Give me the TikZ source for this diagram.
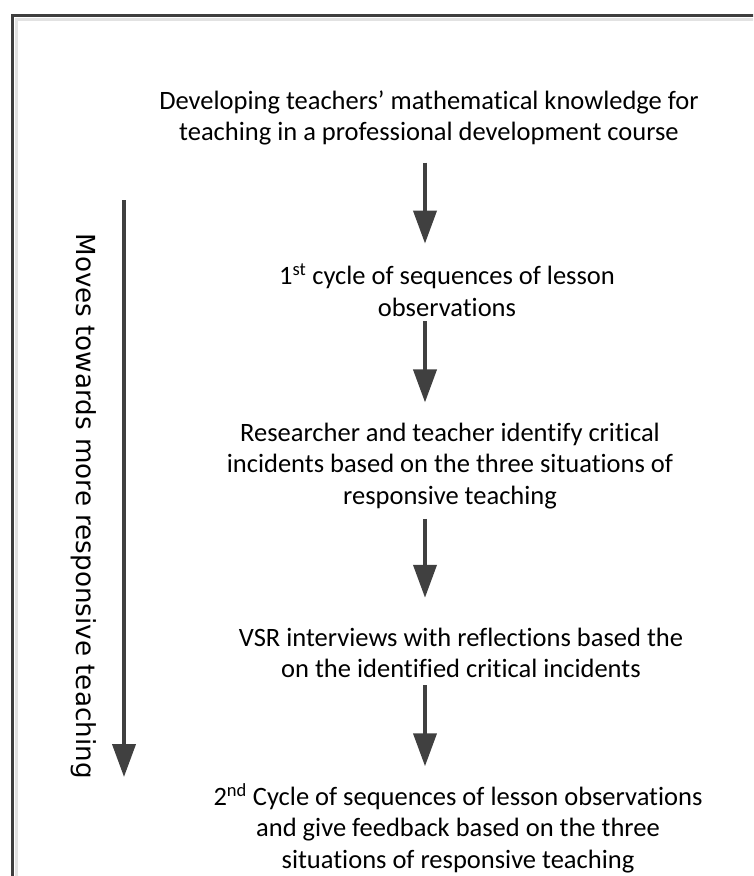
\documentclass[tikz,border=0pt]{standalone}
\usepackage{fontspec}
\setmainfont{Carlito}[Ligatures=NoCommon]
\newfontfamily\movesfont{DejaVu Sans}
\usepackage{xcolor}
\usepackage{tikz}
\usetikzlibrary{arrows.meta,positioning}
\definecolor{arrowgray}{RGB}{64,64,64}
\definecolor{framedark}{RGB}{62,62,62}
\definecolor{framelight}{RGB}{226,226,226}

\begin{document}
\begin{tikzpicture}[
    x=1pt, y=-1pt,
    every node/.style={font=\fontsize{26.5}{31.5}\selectfont},
    stage/.style={align=center, inner sep=0pt},
    flow/.style={draw=arrowgray, line width=4pt, -{Triangle[length=33pt,width=23pt]}},
    sidelbl/.style={font=\movesfont\fontsize{26.2}{30}\selectfont, inner sep=0pt, rotate=-90}
]
\useasboundingbox (0,0) rectangle (753,876);
\clip (0,0) rectangle (753,876);
\draw[framelight, line width=3pt] (16,19) rectangle (790,900);
\draw[framedark, line width=3pt] (12.5,15.5) rectangle (790,900);

\node[stage] (dev) at (429,118) {Developing teachers’ mathematical knowledge for\\teaching in a professional development course};
\node[stage, below=118pt of dev, xshift=18pt] (cyc1) {1\textsuperscript{st} cycle of sequences of lesson\\observations};
\node[stage, below=106pt of cyc1, xshift=3pt] (ident) {Researcher and teacher identify critical\\incidents based on the three situations of\\responsive teaching};
\node[stage, below=119pt of ident, xshift=11pt] (vsr) {VSR interviews with reflections based the\\on the identified critical incidents};
\node[stage, below=105pt of vsr, xshift=-3pt] (cyc2) {2\textsuperscript{nd} Cycle of sequences of lesson observations\\and give feedback based on the three\\situations of responsive teaching};

\coordinate (col) at (425,0);
\draw[flow, shorten <=17pt, shorten >=20pt] (dev.south -| col) -- (cyc1.north -| col);
\draw[flow, shorten <=5pt, shorten >=20pt] (cyc1.south -| col) -- (ident.north -| col);
\draw[flow, shorten <=10pt, shorten >=30pt] (ident.south -| col) -- (vsr.north -| col);
\draw[flow, shorten <=7pt, shorten >=17pt] (vsr.south -| col) -- (cyc2.north -| col);

% side arrow
\coordinate (mvtop) at (124,200);
\coordinate (mvend) at (124,777);
\draw[flow] (mvtop) -- (mvend);
\node[sidelbl] (moves) at (84,506) {Moves towards more responsive teaching};
\end{tikzpicture}
\end{document}
